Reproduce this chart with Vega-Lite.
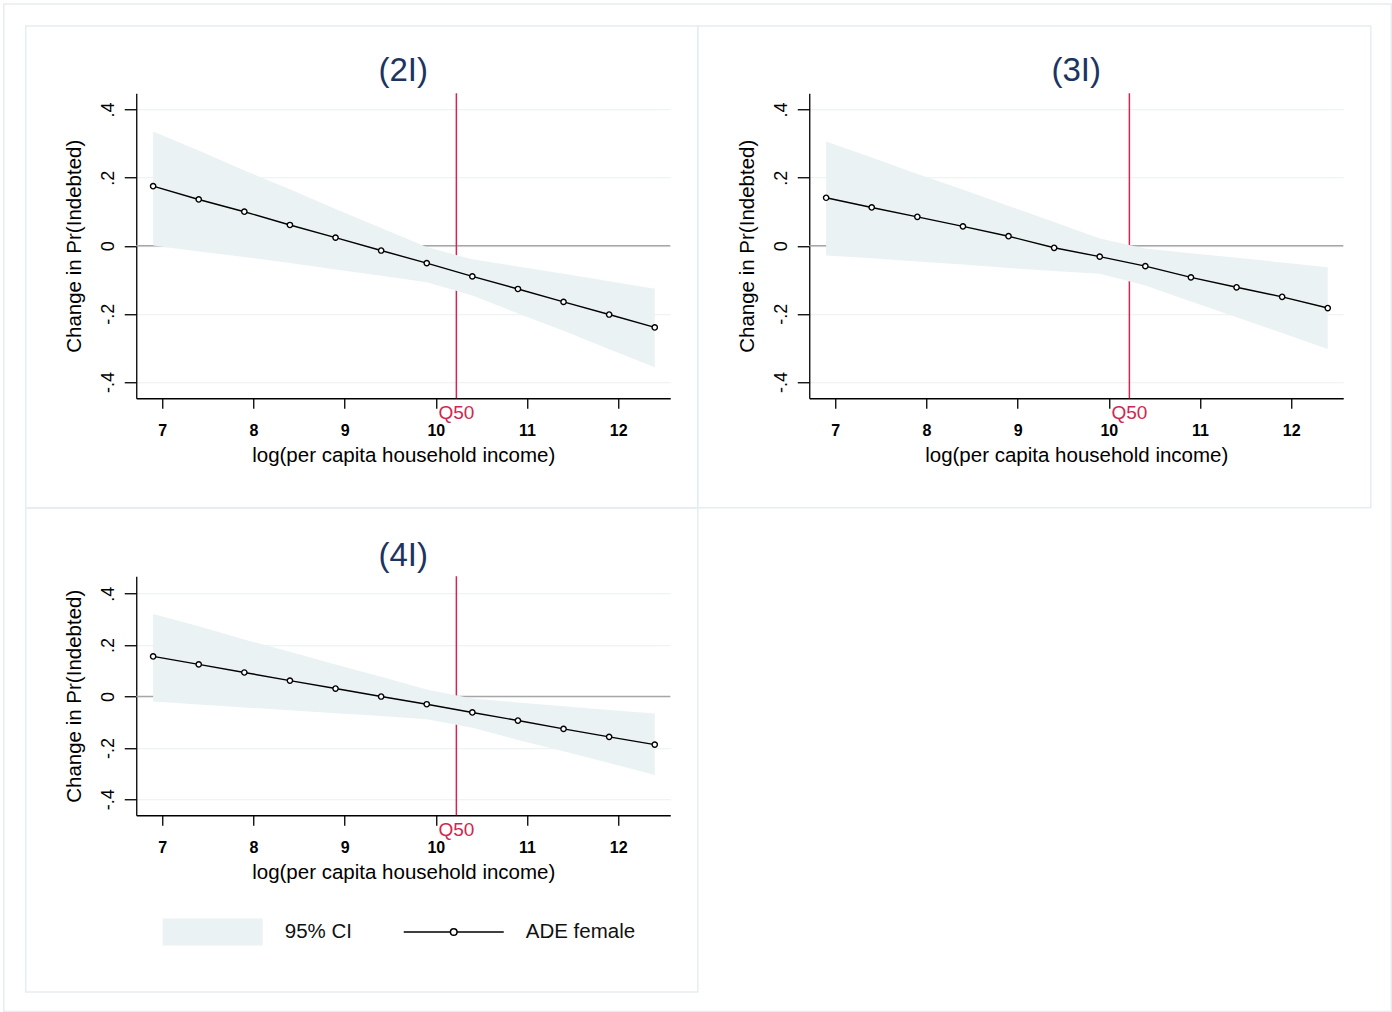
{
  "$schema": "https://vega.github.io/schema/vega-lite/v6.json",
  "autosize": {"type": "pad"},
  "padding": {"left": 2.25, "top": 2.25, "right": 0, "bottom": 0},
  "background": "white",
  "datasets": {
    "p2I": [
      {"x": 6.9, "ade": 0.175, "lo": 0.001, "hi": 0.336},
      {"x": 7.4, "ade": 0.136, "lo": -0.017, "hi": 0.280},
      {"x": 7.9, "ade": 0.100, "lo": -0.033, "hi": 0.221},
      {"x": 8.4, "ade": 0.061, "lo": -0.051, "hi": 0.166},
      {"x": 8.9, "ade": 0.024, "lo": -0.070, "hi": 0.108},
      {"x": 9.4, "ade": -0.014, "lo": -0.088, "hi": 0.052},
      {"x": 9.9, "ade": -0.051, "lo": -0.107, "hi": -0.004},
      {"x": 10.4, "ade": -0.090, "lo": -0.146, "hi": -0.040},
      {"x": 10.9, "ade": -0.127, "lo": -0.199, "hi": -0.061},
      {"x": 11.4, "ade": -0.165, "lo": -0.250, "hi": -0.082},
      {"x": 11.9, "ade": -0.202, "lo": -0.304, "hi": -0.104},
      {"x": 12.4, "ade": -0.240, "lo": -0.357, "hi": -0.126}
    ],
    "p3I": [
      {"x": 6.9, "ade": 0.141, "lo": -0.029, "hi": 0.306},
      {"x": 7.4, "ade": 0.1125, "lo": -0.037, "hi": 0.259},
      {"x": 7.9, "ade": 0.085, "lo": -0.046, "hi": 0.211},
      {"x": 8.4, "ade": 0.057, "lo": -0.055, "hi": 0.165},
      {"x": 8.9, "ade": 0.028, "lo": -0.065, "hi": 0.117},
      {"x": 9.4, "ade": -0.006, "lo": -0.074, "hi": 0.070},
      {"x": 9.9, "ade": -0.032, "lo": -0.082, "hi": 0.021},
      {"x": 10.4, "ade": -0.060, "lo": -0.117, "hi": -0.008},
      {"x": 10.9, "ade": -0.093, "lo": -0.164, "hi": -0.022},
      {"x": 11.4, "ade": -0.122, "lo": -0.210, "hi": -0.035},
      {"x": 11.9, "ade": -0.150, "lo": -0.256, "hi": -0.049},
      {"x": 12.4, "ade": -0.183, "lo": -0.303, "hi": -0.063}
    ],
    "p4I": [
      {"x": 6.9, "ade": 0.156, "lo": -0.019, "hi": 0.321},
      {"x": 7.4, "ade": 0.125, "lo": -0.031, "hi": 0.273},
      {"x": 7.9, "ade": 0.0935, "lo": -0.043, "hi": 0.222},
      {"x": 8.4, "ade": 0.062, "lo": -0.053, "hi": 0.174},
      {"x": 8.9, "ade": 0.031, "lo": -0.065, "hi": 0.125},
      {"x": 9.4, "ade": 0.0, "lo": -0.076, "hi": 0.077},
      {"x": 9.9, "ade": -0.030, "lo": -0.088, "hi": 0.027},
      {"x": 10.4, "ade": -0.062, "lo": -0.122, "hi": -0.008},
      {"x": 10.9, "ade": -0.0935, "lo": -0.169, "hi": -0.023},
      {"x": 11.4, "ade": -0.126, "lo": -0.213, "hi": -0.038},
      {"x": 11.9, "ade": -0.157, "lo": -0.259, "hi": -0.052},
      {"x": 12.4, "ade": -0.187, "lo": -0.305, "hi": -0.066}
    ],
    "median": [{"q": 10.225, "label": "Q50"}],
    "legendRows": [{"s": "95% CI"}, {"s": "ADE female"}]
  },
  "columns": 2,
  "spacing": {"row": 178, "column": 139},
  "bounds": "flush",
  "concat": [
    {
      "width": 534, "height": 305,
      "title": {"text": "(2I)", "offset": -85},
      "data": {"name": "p2I"},
      "layer": [
        {"data": {"values": [{}]}, "mark": {"type": "rect", "fill": "transparent", "stroke": "#e6edf0", "strokeWidth": 1.5, "clip": false},
         "encoding": {"x": {"datum": 5.262, "type": "quantitative", "scale": {"domain": [6.715, 12.57], "nice": false, "zero": false}, "axis": {"title": "log(per capita household income)", "values": [7, 8, 9, 10, 11, 12]}}, "x2": {"datum": 20.476},
                      "y": {"datum": 0.7103, "type": "quantitative", "scale": {"domain": [-0.448, 0.448], "nice": false, "zero": false}, "axis": {"title": "Change in Pr(Indebted)", "values": [-0.4, -0.2, 0, 0.2, 0.4], "labelExpr": "datum.value == 0 ? '0' : (datum.value < 0 ? '-' : '') + '.' + round(abs(datum.value) * 10)"}}, "y2": {"datum": -2.2494}}},
        {"data": {"values": [{}]}, "mark": {"type": "rect", "fill": "transparent", "stroke": "#e6edf0", "strokeWidth": 1.5, "clip": false},
         "encoding": {"x": {"datum": 5.503, "type": "quantitative", "scale": {"domain": [6.715, 12.57], "nice": false, "zero": false}, "axis": {"title": "log(per capita household income)", "values": [7, 8, 9, 10, 11, 12]}}, "x2": {"datum": 12.872},
                      "y": {"datum": 0.6457, "type": "quantitative", "scale": {"domain": [-0.448, 0.448], "nice": false, "zero": false}, "axis": {"title": "Change in Pr(Indebted)", "values": [-0.4, -0.2, 0, 0.2, 0.4], "labelExpr": "datum.value == 0 ? '0' : (datum.value < 0 ? '-' : '') + '.' + round(abs(datum.value) * 10)"}}, "y2": {"datum": -0.770}}},
        {"data": {"values": [{}]}, "mark": {"type": "rule", "color": "#a6a6a6", "strokeWidth": 1.5},
         "encoding": {"y": {"datum": 0, "type": "quantitative", "scale": {"domain": [-0.448, 0.448], "nice": false, "zero": false}, "axis": {"title": "Change in Pr(Indebted)", "values": [-0.4, -0.2, 0, 0.2, 0.4], "labelExpr": "datum.value == 0 ? '0' : (datum.value < 0 ? '-' : '') + '.' + round(abs(datum.value) * 10)"}}}},
        {"data": {"name": "median"}, "mark": {"type": "rule", "color": "#d0274f", "strokeWidth": 1.5},
         "encoding": {"x": {"field": "q", "type": "quantitative", "scale": {"domain": [6.715, 12.57], "nice": false, "zero": false}, "axis": {"title": "log(per capita household income)", "values": [7, 8, 9, 10, 11, 12]}}}},
        {"mark": {"type": "area", "color": "#ebf2f3", "opacity": 1},
         "encoding": {"x": {"field": "x", "type": "quantitative", "scale": {"domain": [6.715, 12.57], "nice": false, "zero": false}, "axis": {"title": "log(per capita household income)", "values": [7, 8, 9, 10, 11, 12]}},
                      "y": {"field": "lo", "type": "quantitative", "scale": {"domain": [-0.448, 0.448], "nice": false, "zero": false}, "axis": {"title": "Change in Pr(Indebted)", "values": [-0.4, -0.2, 0, 0.2, 0.4], "labelExpr": "datum.value == 0 ? '0' : (datum.value < 0 ? '-' : '') + '.' + round(abs(datum.value) * 10)"}},
                      "y2": {"field": "hi"}}},
        {"mark": {"type": "line", "color": "#000000", "strokeWidth": 1.4},
         "encoding": {"x": {"field": "x", "type": "quantitative", "scale": {"domain": [6.715, 12.57], "nice": false, "zero": false}, "axis": {"title": "log(per capita household income)", "values": [7, 8, 9, 10, 11, 12]}},
                      "y": {"field": "ade", "type": "quantitative", "scale": {"domain": [-0.448, 0.448], "nice": false, "zero": false}, "axis": {"title": "Change in Pr(Indebted)", "values": [-0.4, -0.2, 0, 0.2, 0.4], "labelExpr": "datum.value == 0 ? '0' : (datum.value < 0 ? '-' : '') + '.' + round(abs(datum.value) * 10)"}}}},
        {"mark": {"type": "point", "shape": "circle", "size": 28, "filled": true, "fill": "#ffffff", "stroke": "#000000", "strokeWidth": 1.4, "opacity": 1},
         "encoding": {"x": {"field": "x", "type": "quantitative", "scale": {"domain": [6.715, 12.57], "nice": false, "zero": false}, "axis": {"title": "log(per capita household income)", "values": [7, 8, 9, 10, 11, 12]}},
                      "y": {"field": "ade", "type": "quantitative", "scale": {"domain": [-0.448, 0.448], "nice": false, "zero": false}, "axis": {"title": "Change in Pr(Indebted)", "values": [-0.4, -0.2, 0, 0.2, 0.4], "labelExpr": "datum.value == 0 ? '0' : (datum.value < 0 ? '-' : '') + '.' + round(abs(datum.value) * 10)"}}}},
        {"data": {"name": "median"}, "mark": {"type": "text", "color": "#d0274f", "fontSize": 19, "align": "center", "baseline": "middle", "dy": 14.5, "clip": false},
         "encoding": {"x": {"field": "q", "type": "quantitative", "scale": {"domain": [6.715, 12.57], "nice": false, "zero": false}, "axis": {"title": "log(per capita household income)", "values": [7, 8, 9, 10, 11, 12]}},
                      "y": {"datum": -0.448, "type": "quantitative", "scale": {"domain": [-0.448, 0.448], "nice": false, "zero": false}, "axis": {"title": "Change in Pr(Indebted)", "values": [-0.4, -0.2, 0, 0.2, 0.4], "labelExpr": "datum.value == 0 ? '0' : (datum.value < 0 ? '-' : '') + '.' + round(abs(datum.value) * 10)"}},
                      "text": {"field": "label"}}}
      ]
    },
    {
      "width": 534, "height": 305,
      "title": {"text": "(3I)", "offset": -63},
      "data": {"name": "p3I"},
      "layer": [
        {"data": {"values": [{}]}, "mark": {"type": "rect", "fill": "transparent", "stroke": "#e6edf0", "strokeWidth": 1.5, "clip": false},
         "encoding": {"x": {"datum": 5.492, "type": "quantitative", "scale": {"domain": [6.715, 12.57], "nice": false, "zero": false}, "axis": {"title": "log(per capita household income)", "values": [7, 8, 9, 10, 11, 12]}}, "x2": {"datum": 12.872},
                      "y": {"datum": 0.6457, "type": "quantitative", "scale": {"domain": [-0.448, 0.448], "nice": false, "zero": false}, "axis": {"title": "Change in Pr(Indebted)", "values": [-0.4, -0.2, 0, 0.2, 0.4], "labelExpr": "datum.value == 0 ? '0' : (datum.value < 0 ? '-' : '') + '.' + round(abs(datum.value) * 10)"}}, "y2": {"datum": -0.770}}},
        {"data": {"values": [{}]}, "mark": {"type": "rule", "color": "#a6a6a6", "strokeWidth": 1.5},
         "encoding": {"y": {"datum": 0, "type": "quantitative", "scale": {"domain": [-0.448, 0.448], "nice": false, "zero": false}, "axis": {"title": "Change in Pr(Indebted)", "values": [-0.4, -0.2, 0, 0.2, 0.4], "labelExpr": "datum.value == 0 ? '0' : (datum.value < 0 ? '-' : '') + '.' + round(abs(datum.value) * 10)"}}}},
        {"data": {"name": "median"}, "mark": {"type": "rule", "color": "#d0274f", "strokeWidth": 1.5},
         "encoding": {"x": {"field": "q", "type": "quantitative", "scale": {"domain": [6.715, 12.57], "nice": false, "zero": false}, "axis": {"title": "log(per capita household income)", "values": [7, 8, 9, 10, 11, 12]}}}},
        {"mark": {"type": "area", "color": "#ebf2f3", "opacity": 1},
         "encoding": {"x": {"field": "x", "type": "quantitative", "scale": {"domain": [6.715, 12.57], "nice": false, "zero": false}, "axis": {"title": "log(per capita household income)", "values": [7, 8, 9, 10, 11, 12]}},
                      "y": {"field": "lo", "type": "quantitative", "scale": {"domain": [-0.448, 0.448], "nice": false, "zero": false}, "axis": {"title": "Change in Pr(Indebted)", "values": [-0.4, -0.2, 0, 0.2, 0.4], "labelExpr": "datum.value == 0 ? '0' : (datum.value < 0 ? '-' : '') + '.' + round(abs(datum.value) * 10)"}},
                      "y2": {"field": "hi"}}},
        {"mark": {"type": "line", "color": "#000000", "strokeWidth": 1.4},
         "encoding": {"x": {"field": "x", "type": "quantitative", "scale": {"domain": [6.715, 12.57], "nice": false, "zero": false}, "axis": {"title": "log(per capita household income)", "values": [7, 8, 9, 10, 11, 12]}},
                      "y": {"field": "ade", "type": "quantitative", "scale": {"domain": [-0.448, 0.448], "nice": false, "zero": false}, "axis": {"title": "Change in Pr(Indebted)", "values": [-0.4, -0.2, 0, 0.2, 0.4], "labelExpr": "datum.value == 0 ? '0' : (datum.value < 0 ? '-' : '') + '.' + round(abs(datum.value) * 10)"}}}},
        {"mark": {"type": "point", "shape": "circle", "size": 28, "filled": true, "fill": "#ffffff", "stroke": "#000000", "strokeWidth": 1.4, "opacity": 1},
         "encoding": {"x": {"field": "x", "type": "quantitative", "scale": {"domain": [6.715, 12.57], "nice": false, "zero": false}, "axis": {"title": "log(per capita household income)", "values": [7, 8, 9, 10, 11, 12]}},
                      "y": {"field": "ade", "type": "quantitative", "scale": {"domain": [-0.448, 0.448], "nice": false, "zero": false}, "axis": {"title": "Change in Pr(Indebted)", "values": [-0.4, -0.2, 0, 0.2, 0.4], "labelExpr": "datum.value == 0 ? '0' : (datum.value < 0 ? '-' : '') + '.' + round(abs(datum.value) * 10)"}}}},
        {"data": {"name": "median"}, "mark": {"type": "text", "color": "#d0274f", "fontSize": 19, "align": "center", "baseline": "middle", "dy": 14.5, "clip": false},
         "encoding": {"x": {"field": "q", "type": "quantitative", "scale": {"domain": [6.715, 12.57], "nice": false, "zero": false}, "axis": {"title": "log(per capita household income)", "values": [7, 8, 9, 10, 11, 12]}},
                      "y": {"datum": -0.448, "type": "quantitative", "scale": {"domain": [-0.448, 0.448], "nice": false, "zero": false}, "axis": {"title": "Change in Pr(Indebted)", "values": [-0.4, -0.2, 0, 0.2, 0.4], "labelExpr": "datum.value == 0 ? '0' : (datum.value < 0 ? '-' : '') + '.' + round(abs(datum.value) * 10)"}},
                      "text": {"field": "label"}}}
      ]
    },
    {
      "width": 534, "height": 239,
      "title": {"text": "(4I)", "offset": -66},
      "data": {"name": "p4I"},
      "layer": [
        {"data": {"values": [{}]}, "mark": {"type": "rect", "fill": "transparent", "stroke": "#e6edf0", "strokeWidth": 1.5, "clip": false},
         "encoding": {"x": {"datum": 5.503, "type": "quantitative", "scale": {"domain": [6.715, 12.57], "nice": false, "zero": false}, "axis": {"title": "log(per capita household income)", "values": [7, 8, 9, 10, 11, 12]}}, "x2": {"datum": 12.872},
                      "y": {"datum": 0.7338, "type": "quantitative", "scale": {"domain": [-0.462, 0.468], "nice": false, "zero": false}, "axis": {"title": "Change in Pr(Indebted)", "values": [-0.4, -0.2, 0, 0.2, 0.4], "labelExpr": "datum.value == 0 ? '0' : (datum.value < 0 ? '-' : '') + '.' + round(abs(datum.value) * 10)"}}, "y2": {"datum": -1.1495}}},
        {"data": {"values": [{}]}, "mark": {"type": "rule", "color": "#a6a6a6", "strokeWidth": 1.5},
         "encoding": {"y": {"datum": 0, "type": "quantitative", "scale": {"domain": [-0.462, 0.468], "nice": false, "zero": false}, "axis": {"title": "Change in Pr(Indebted)", "values": [-0.4, -0.2, 0, 0.2, 0.4], "labelExpr": "datum.value == 0 ? '0' : (datum.value < 0 ? '-' : '') + '.' + round(abs(datum.value) * 10)"}}}},
        {"data": {"name": "median"}, "mark": {"type": "rule", "color": "#d0274f", "strokeWidth": 1.5},
         "encoding": {"x": {"field": "q", "type": "quantitative", "scale": {"domain": [6.715, 12.57], "nice": false, "zero": false}, "axis": {"title": "log(per capita household income)", "values": [7, 8, 9, 10, 11, 12]}}}},
        {"mark": {"type": "area", "color": "#ebf2f3", "opacity": 1},
         "encoding": {"x": {"field": "x", "type": "quantitative", "scale": {"domain": [6.715, 12.57], "nice": false, "zero": false}, "axis": {"title": "log(per capita household income)", "values": [7, 8, 9, 10, 11, 12]}},
                      "y": {"field": "lo", "type": "quantitative", "scale": {"domain": [-0.462, 0.468], "nice": false, "zero": false}, "axis": {"title": "Change in Pr(Indebted)", "values": [-0.4, -0.2, 0, 0.2, 0.4], "labelExpr": "datum.value == 0 ? '0' : (datum.value < 0 ? '-' : '') + '.' + round(abs(datum.value) * 10)"}},
                      "y2": {"field": "hi"}}},
        {"mark": {"type": "line", "color": "#000000", "strokeWidth": 1.4},
         "encoding": {"x": {"field": "x", "type": "quantitative", "scale": {"domain": [6.715, 12.57], "nice": false, "zero": false}, "axis": {"title": "log(per capita household income)", "values": [7, 8, 9, 10, 11, 12]}},
                      "y": {"field": "ade", "type": "quantitative", "scale": {"domain": [-0.462, 0.468], "nice": false, "zero": false}, "axis": {"title": "Change in Pr(Indebted)", "values": [-0.4, -0.2, 0, 0.2, 0.4], "labelExpr": "datum.value == 0 ? '0' : (datum.value < 0 ? '-' : '') + '.' + round(abs(datum.value) * 10)"}}}},
        {"mark": {"type": "point", "shape": "circle", "size": 28, "filled": true, "fill": "#ffffff", "stroke": "#000000", "strokeWidth": 1.4, "opacity": 1},
         "encoding": {"x": {"field": "x", "type": "quantitative", "scale": {"domain": [6.715, 12.57], "nice": false, "zero": false}, "axis": {"title": "log(per capita household income)", "values": [7, 8, 9, 10, 11, 12]}},
                      "y": {"field": "ade", "type": "quantitative", "scale": {"domain": [-0.462, 0.468], "nice": false, "zero": false}, "axis": {"title": "Change in Pr(Indebted)", "values": [-0.4, -0.2, 0, 0.2, 0.4], "labelExpr": "datum.value == 0 ? '0' : (datum.value < 0 ? '-' : '') + '.' + round(abs(datum.value) * 10)"}}}},
        {"data": {"name": "median"}, "mark": {"type": "text", "color": "#d0274f", "fontSize": 19, "align": "center", "baseline": "middle", "dy": 14.5, "clip": false},
         "encoding": {"x": {"field": "q", "type": "quantitative", "scale": {"domain": [6.715, 12.57], "nice": false, "zero": false}, "axis": {"title": "log(per capita household income)", "values": [7, 8, 9, 10, 11, 12]}},
                      "y": {"datum": -0.462, "type": "quantitative", "scale": {"domain": [-0.462, 0.468], "nice": false, "zero": false}, "axis": {"title": "Change in Pr(Indebted)", "values": [-0.4, -0.2, 0, 0.2, 0.4], "labelExpr": "datum.value == 0 ? '0' : (datum.value < 0 ? '-' : '') + '.' + round(abs(datum.value) * 10)"}},
                      "text": {"field": "label"}}},
        {"data": {"name": "legendRows"}, "mark": {"type": "point", "opacity": 0},
         "encoding": {
           "shape": {"field": "s", "type": "nominal", "scale": {"domain": ["95% CI", "ADE female"], "range": ["M-1,-0.27H1V0.27H-1Z", "M0,-0.27M0,0.27M-1,0H-0.066M0.066,0H1M0.066,0A0.066,0.066,0,1,1,-0.066,0A0.066,0.066,0,1,1,0.066,0Z"]},
                     "legend": {"title": null, "orient": "none", "legendX": 25.5, "legendY": 787.5, "direction": "horizontal", "padding": 0, "symbolSize": 10000, "symbolStrokeWidth": 1.5, "symbolOpacity": 1, "labelFontSize": 20.5, "labelOffset": 21, "columnPadding": 48, "labelColor": "#111111", "labelFont": "Liberation Sans", "labelLimit": 300}},
           "fill": {"field": "s", "type": "nominal", "scale": {"domain": ["95% CI", "ADE female"], "range": ["#ebf2f3", "#ffffff"]}},
           "stroke": {"field": "s", "type": "nominal", "scale": {"domain": ["95% CI", "ADE female"], "range": ["transparent", "#000000"]}}
         }}
      ]
    }
  ],
  "config": {
    "font": "Liberation Sans",
    "view": {"stroke": null},
    "title": {"fontSize": 33, "fontWeight": "normal", "color": "#1c3461", "font": "Liberation Sans"},
    "axis": {"domainColor": "#000000", "tickColor": "#000000", "domainWidth": 1.3, "tickWidth": 1.3, "labelColor": "#000000", "titleColor": "#000000", "labelFont": "Liberation Sans", "titleFont": "Liberation Sans", "titleFontWeight": "normal", "titleFontSize": 20.5, "labelOverlap": false, "labelFlush": false, "gridColor": "#e8eff1", "gridWidth": 1.2},
    "axisX": {"grid": false, "tickSize": 10, "labelFontSize": 16, "labelFontWeight": "bold", "labelPadding": 14, "titlePadding": 7},
    "axisY": {"grid": true, "tickSize": 12, "labelFontSize": 18, "labelAngle": -90, "labelPadding": 7, "titlePadding": 15}
  }
}
